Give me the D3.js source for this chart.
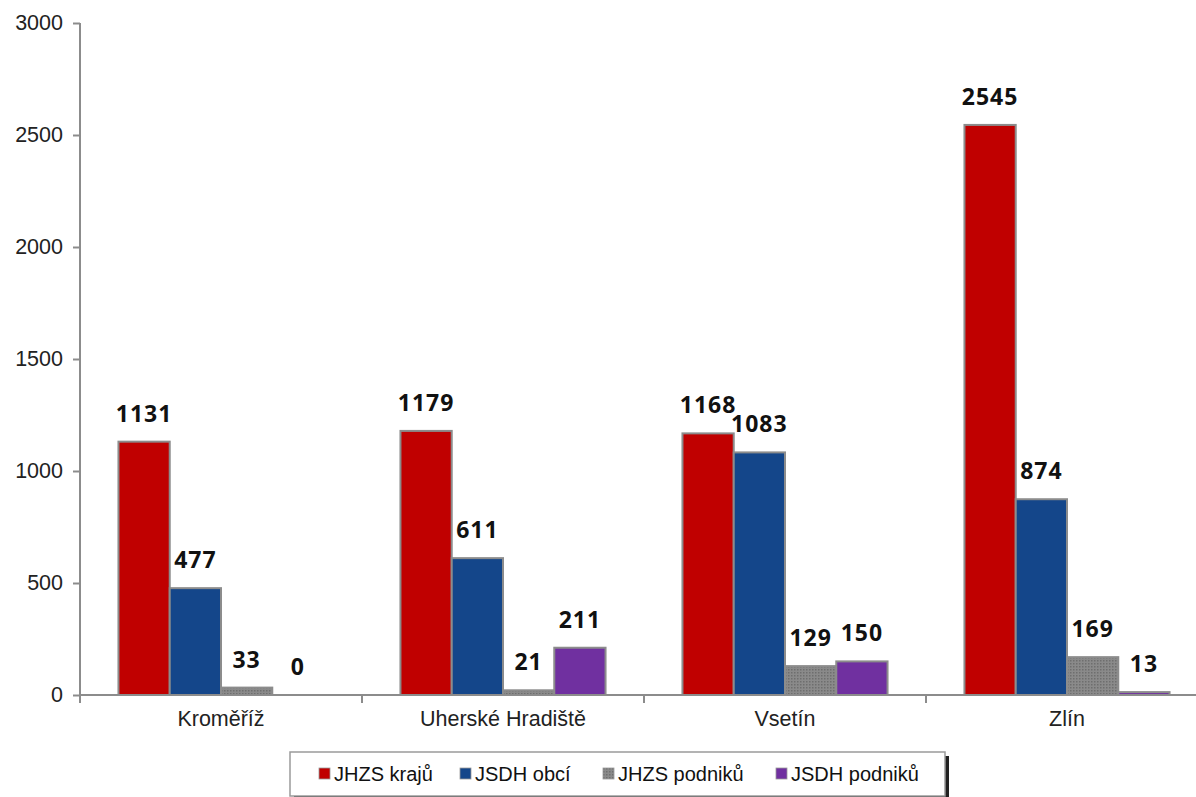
<!DOCTYPE html>
<html><head><meta charset="utf-8">
<script src="https://cdn.jsdelivr.net/npm/d3@7"></script>
<style>body{margin:0;background:#fff}svg{display:block}</style>
</head><body>
<svg id="c" width="1196" height="797"></svg>
<script>
const categories = ["Kroměříž", "Uherské Hradiště", "Vsetín", "Zlín"];
const seriesNames = ["JHZS krajů", "JSDH obcí", "JHZS podniků", "JSDH podniků"];
const jhzsKraju = [1131, 1179, 1168, 2545];
const jsdhObci = [477, 611, 1083, 874];
const jhzsPodniku = [33, 21, 129, 169];
const jsdhPodniku = [0, 211, 150, 13];
const yTicks = [0, 500, 1000, 1500, 2000, 2500, 3000];
const colors = ["#c00000", "#14468a", "#808080", "#7030a0"];

const series = [jhzsKraju, jsdhObci, jhzsPodniku, jsdhPodniku];
const svg = d3.select("#c");
const x0 = d3.scaleBand().domain(categories).range([80, 1208]).padding(0);
const x1 = d3.scaleBand().domain(d3.range(4)).range([0, x0.bandwidth()]).paddingInner(0).paddingOuter(0.75);
const y = d3.scaleLinear().domain([0, 3000]).range([695, 23]);

const defs = svg.append("defs");
const pat = defs.append("pattern").attr("id","dots").attr("width",3).attr("height",3).attr("patternUnits","userSpaceOnUse");
pat.append("rect").attr("width",3).attr("height",3).attr("fill","#8a8a8a");
pat.append("rect").attr("width",1.5).attr("height",1.5).attr("fill","#6e6e6e");

const fills = [colors[0], colors[1], "url(#dots)", colors[3]];

categories.forEach((c, ci) => {
  const g = svg.append("g").attr("transform", `translate(${x0(c)},0)`);
  series.forEach((s, si) => {
    const v = s[ci];
    if (v > 0) {
      g.append("rect")
        .attr("x", x1(si)).attr("width", x1.bandwidth())
        .attr("y", y(v)).attr("height", y(0) - y(v))
        .attr("fill", fills[si]).attr("stroke", "#8c8c8c").attr("stroke-width", 2);
    }
    g.append("text")
      .attr("x", x1(si) + x1.bandwidth() / 2)
      .attr("y", y(v) - 20)
      .attr("text-anchor", "middle")
      .attr("font-family", "'Open Sans', 'DejaVu Sans', sans-serif")
      .attr("font-weight", "bold").attr("font-size", 23).attr("letter-spacing", 1).attr("fill", "#111")
      .text(v);
  });
});

const yAxis = svg.append("g").attr("transform", "translate(80,0)")
  .call(d3.axisLeft(y).tickValues(yTicks).tickFormat(d3.format("d")).tickSize(7).tickPadding(10));
yAxis.selectAll("text").attr("font-family", "'Liberation Sans', Arial, sans-serif").attr("font-size", 21.5).attr("fill", "#222");
yAxis.selectAll("line").attr("stroke", "#8c8c8c").attr("stroke-width", 2);
yAxis.select(".domain").attr("stroke", "#8c8c8c").attr("stroke-width", 2).attr("d", "M0,23V695");

const xAxis = svg.append("g").attr("transform", "translate(0,695)")
  .call(d3.axisBottom(x0).tickSize(0).tickPadding(16));
xAxis.select(".domain").attr("stroke", "#8c8c8c").attr("stroke-width", 2).attr("d", "M80,0H1208");
xAxis.selectAll("text").attr("font-family", "'Liberation Sans', Arial, sans-serif").attr("font-size", 21.5).attr("fill", "#222");
svg.append("g").selectAll("line").data(categories).join("line")
  .attr("x1", d => x0(d)).attr("x2", d => x0(d))
  .attr("y1", 695).attr("y2", 703).attr("stroke", "#8c8c8c").attr("stroke-width", 2);

const lg = svg.append("g");
lg.append("rect").attr("x", 294).attr("y", 756).attr("width", 655).attr("height", 44).attr("fill", "#222");
lg.append("rect").attr("x", 290).attr("y", 752).attr("width", 655).attr("height", 44)
  .attr("fill", "#fff").attr("stroke", "#9a9a9a").attr("stroke-width", 1.5);
const legX = [319, 460, 603, 776];
seriesNames.forEach((n, i) => {
  lg.append("rect").attr("x", legX[i]).attr("y", 768).attr("width", 11).attr("height", 11)
    .attr("fill", fills[i]).attr("stroke", "#999").attr("stroke-width", 0.8);
  lg.append("text").attr("x", legX[i] + 15).attr("y", 781)
    .attr("font-family", "'Liberation Sans Narrow', 'Liberation Sans', sans-serif")
    .attr("font-size", 20).attr("fill", "#111").text(n);
});
</script>
</body></html>
